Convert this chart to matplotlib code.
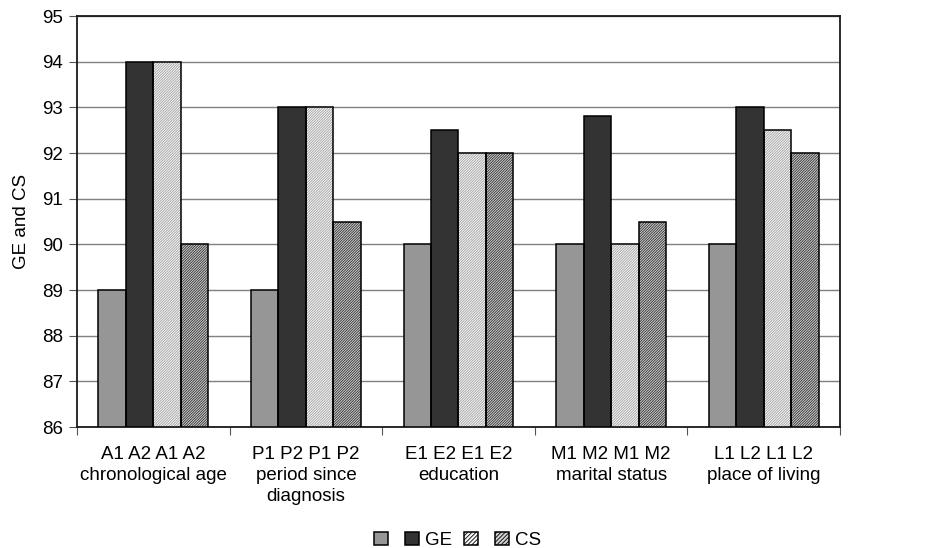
import matplotlib.pyplot as plt
import numpy as np

plt.rcParams['font.family'] = ['Liberation Sans', 'DejaVu Sans']
plt.rcParams['hatch.linewidth'] = 0.6

groups = ['A1 A2 A1 A2\nchronological age',
          'P1 P2 P1 P2\nperiod since\ndiagnosis',
          'E1 E2 E1 E2\neducation',
          'M1 M2 M1 M2\nmarital status',
          'L1 L2 L1 L2\nplace of living']
ge_1 = [89, 89, 90, 90, 90]
ge_2 = [94, 93, 92.5, 92.8, 93]
cs_1 = [94, 93, 92, 90, 92.5]
cs_2 = [90, 90.5, 92, 90.5, 92]

series = [ge_1, ge_2, cs_1, cs_2]
labels = ['', 'GE', '', 'CS']
faces = ['#969696', '#333333', '#f8f8f8', '#d0d0d0']
hatch_cols = [None, None, '#a0a0a0', '#303030']
hatches = [None, None, '/' * 13, '/' * 13]

fig = plt.figure(figsize=(9.32, 5.48), dpi=100)
ax = fig.add_axes([0.0826, 0.2208, 0.8187, 0.75])

x = np.arange(len(groups))
w = 0.18
handles = []
for i, vals in enumerate(series):
    pos = x - 1.5 * w + i * w
    h = np.array(vals) - 86
    if hatches[i]:
        ax.bar(pos, h, w, bottom=86, color=faces[i],
               edgecolor=hatch_cols[i], hatch=hatches[i], linewidth=0, zorder=3)
    else:
        ax.bar(pos, h, w, bottom=86, color=faces[i], linewidth=0, zorder=3)
    ax.bar(pos, h, w, bottom=86, fill=False,
           edgecolor='black', linewidth=1.1, zorder=4)
    handles.append(plt.Rectangle((0, 0), 1, 1, facecolor=faces[i],
                                 edgecolor='black', linewidth=1.1,
                                 hatch=hatches[i] and '/' * 8))

ax.set_ylim(86, 95)
ax.set_yticks(range(86, 96))
ax.set_xlim(-0.5, len(groups) - 0.5)
ax.set_xticks(x)
ax.set_xticklabels(groups, fontsize=13.5, linespacing=1.3, va='top')
ax.set_xticks(np.arange(-0.5, len(groups)), minor=True)
ax.tick_params(axis='x', which='major', length=0, pad=14)
ax.tick_params(axis='x', which='minor', length=6, width=0.8, color='#555555')
ax.tick_params(axis='y', labelsize=13.5, length=6, width=0.8, color='#555555', pad=4)
ax.yaxis.grid(True, color='#808080', linewidth=1.0, zorder=0)
ax.set_axisbelow(True)
for s in ax.spines.values():
    s.set_linewidth(1.3)
    s.set_color('#1a1a1a')
ax.set_ylabel('GE and CS', fontsize=13.5, labelpad=9)

fig.legend(handles, labels, loc='center', bbox_to_anchor=(0.491, 0.014),
           ncol=4, frameon=False, fontsize=13.5, handlelength=0.75,
           handleheight=0.75, handletextpad=0.33, columnspacing=0.6,
           borderpad=0.2)

fig.savefig('out.png', dpi=100)
